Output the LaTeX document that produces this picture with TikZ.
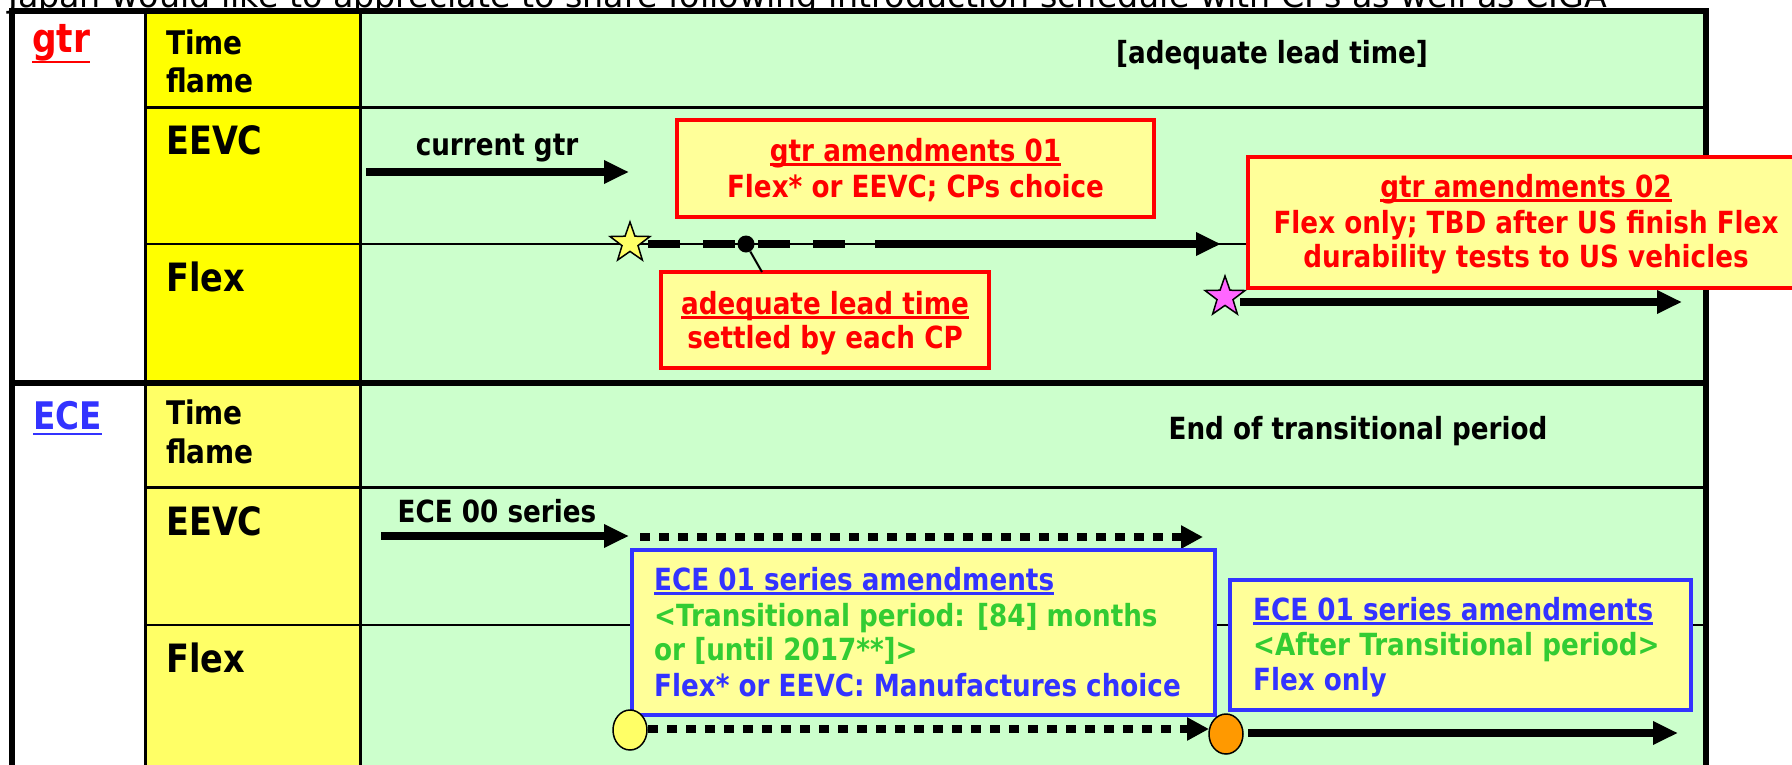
\documentclass[tikz,border=0pt]{standalone}
\usepackage{fontspec}
\usetikzlibrary{arrows.meta,shapes.geometric}
\newfontfamily\tf[FakeStretch=0.86]{DejaVu Sans}
\newfontfamily\capf{DejaVu Sans}
\definecolor{gfill}{HTML}{CCFFCC}
\definecolor{ygtr}{HTML}{FFFF00}
\definecolor{yece}{HTML}{FFFF66}
\definecolor{bfill}{HTML}{FFFF99}
\definecolor{myred}{HTML}{FF0000}
\definecolor{myblue}{HTML}{3333FF}
\definecolor{mygreen}{HTML}{33CC33}
\definecolor{mypink}{HTML}{FF66FF}
\definecolor{myorange}{HTML}{FF9900}
\newlength\ulwd
\newcommand\myul[2][4.5pt]{\settowidth\ulwd{#2}\rlap{\rule[-#1]{\ulwd}{2.5pt}}#2}
\tikzset{
  txt/.style={inner sep=0pt, font=\tf\bfseries\fontsize{30.5}{36}\selectfont},
  coltxt/.style={inner sep=0pt, anchor=base west, font=\tf\bfseries\fontsize{39}{44}\selectfont},
  tftxt/.style={inner sep=0pt, anchor=base west, font=\tf\bfseries\fontsize{32.5}{38}\selectfont},
  grid/.style={line width=3pt, black},
  thinrow/.style={line width=2.5pt, black},
  thk/.style={line width=8pt, -{Triangle[length=25pt,width=22pt]}},
  longdash/.style={line width=8pt, dash pattern=on 32pt off 23pt},
  sqdot/.style={line width=8pt, dash pattern=on 10pt off 9pt, -{Triangle[length=22pt,width=22pt]}},
  rbox/.style={rectangle, draw=myred, line width=4pt, fill=bfill, inner sep=0pt},
  bbox/.style={rectangle, draw=myblue, line width=4.5pt, fill=bfill, inner sep=0pt},
  starmark/.style={star, star points=5, star point ratio=2.5, minimum size=42pt, inner sep=0pt, draw=black, line width=1.5pt},
  ellmark/.style={ellipse, minimum width=34pt, minimum height=40pt, inner sep=0pt, draw=black, line width=1.5pt}
}
\begin{document}
\begin{tikzpicture}[x=1pt,y=-1pt]
\useasboundingbox (0,0) rectangle (1792,764);
\clip (0,0) rectangle (1792,764);
\fill[white] (0,0) rectangle (1792,764);
% caption (cut at the top)
\node[inner sep=0pt, anchor=base west, font=\capf\fontsize{33.3}{38}\selectfont] (cap) at (8,7.5)
  {Japan would like to appreciate to share following introduction schedule with CPs as well as CIGA};
% fills
\fill[white] (12,11) rectangle (145,770);
\fill[ygtr] (145,11) rectangle (360,383);
\fill[yece] (145,383) rectangle (360,770);
\fill[gfill] (360,11) rectangle (1706,770);
% row lines
\draw[grid] (145,107) -- (1706,107);
\draw[thinrow] (145,244) -- (1706,244);
\draw[grid] (145,487) -- (1706,487);
\draw[thinrow] (145,625) -- (1706,625);
% column lines
\draw[grid] (145,11) -- (145,770);
\draw[grid] (360,11) -- (360,770);
% gtr / ECE divider
\draw[line width=6pt] (12,383) -- (1706,383);
% outer frame
\draw[line width=6pt] (12,770) -- (12,11) -- (1706,11) -- (1706,770);

% left labels
\node[inner sep=0pt, anchor=base west, text=myred, font=\tf\bfseries\fontsize{40}{44}\selectfont] (lgtr) at (32,52) {\myul[11pt]{gtr}};
\node[inner sep=0pt, anchor=base west, text=myblue, font=\tf\bfseries\fontsize{38}{44}\selectfont] (lece) at (33,429) {\myul[6pt]{ECE}};

% column texts gtr
\node[tftxt] (t1a) at (166,54) {Time};
\node[tftxt] (t1b) at (166,92) {flame};
\node[coltxt] (e1) at (166,154) {EEVC};
\node[coltxt] (f1) at (166,291) {Flex};
% column texts ECE
\node[tftxt] (t2a) at (166,424) {Time};
\node[tftxt] (t2b) at (166,463) {flame};
\node[coltxt] (e2) at (166,535) {EEVC};
\node[coltxt] (f2) at (166,672) {Flex};

% time flame row texts
\node[txt, anchor=base] (alt1) at (1272,63) {[adequate lead time]};
\node[txt, anchor=base] (eot) at (1358,439) {End of transitional period};

% ===== gtr EEVC row
\node[txt, anchor=base] (cg) at (497,155) {current gtr};
\coordinate (cgA) at (366,172);
\coordinate (cgB) at (629,172);
\draw[thk] (cgA) -- (cgB);

\node[rbox, minimum width=477pt, minimum height=97pt] (g01) at (915.5,168.5) {};
\node[txt, anchor=base, text=myred] (g01a) at (915.5,161) {\myul{gtr amendments 01}};
\node[txt, anchor=base, text=myred] (g01b) at (915.5,197) {Flex* or EEVC; CPs choice};

% ===== gtr Flex row
\coordinate (dA) at (648,244);
\coordinate (dB) at (846,244);
\coordinate (sA) at (875,244);
\coordinate (sB) at (1221,244);
\draw[longdash] (dA) -- (dB);
\draw[thk] (sA) -- (sB);
\node[starmark, fill=yece] (ys) at (630,243) {};
\node[circle, fill=black, minimum size=17pt, inner sep=0pt] (dot) at (746,244) {};

\node[rbox, minimum width=328pt, minimum height=96pt] (alt) at (825,320) {};
\coordinate (altpin) at (762,272);
\draw[line width=2pt] (dot) -- (altpin);
\node[txt, anchor=base, text=myred] (alta) at (825,314) {\myul{adequate lead time}};
\node[txt, anchor=base, text=myred] (altb) at (825,348) {settled by each CP};

\node[starmark, fill=mypink] (ps) at (1225,297) {};
\coordinate (pA) at (1240,302);
\coordinate (pB) at (1682,302);
\draw[thk] (pA) -- (pB);

\node[rbox, minimum width=552pt, minimum height=131pt] (g02) at (1524,222.5) {};
\node[txt, anchor=base, text=myred] (g02a) at (1526,197) {\myul{gtr amendments 02}};
\node[txt, anchor=base, text=myred] (g02b) at (1526,233) {Flex only; TBD after US finish Flex};
\node[txt, anchor=base, text=myred] (g02c) at (1526,267) {durability tests to US vehicles};

% ===== ECE EEVC row
\node[txt, anchor=base] (e00) at (497,522) {ECE 00 series};
\coordinate (eA) at (381,536);
\coordinate (eB) at (629,536);
\draw[thk] (eA) -- (eB);
\coordinate (edA) at (640,537);
\coordinate (edB) at (1203,537);
\draw[sqdot] (edA) -- (edB);

\node[bbox, minimum width=583pt, minimum height=165pt] (ecl) at (923.5,632.5) {};
\node[txt, anchor=base west, text=myblue] (ecla) at (654,590) {\myul{ECE 01 series amendments}};
\node[txt, anchor=base west, text=mygreen] (eclb) at (654,626) {<Transitional period: [84] months};
\node[txt, anchor=base west, text=mygreen] (eclc) at (654,660) {or [until 2017**]>};
\node[txt, anchor=base west, text=myblue] (ecld) at (654,696) {Flex* or EEVC: Manufactures choice};

\node[bbox, minimum width=461pt, minimum height=130pt] (ecr) at (1460.5,645) {};
\node[txt, anchor=base west, text=myblue] (ecra) at (1253,620) {\myul{ECE 01 series amendments}};
\node[txt, anchor=base west, text=mygreen] (ecrb) at (1253,655) {<After Transitional period>};
\node[txt, anchor=base west, text=myblue] (ecrc) at (1253,690) {Flex only};

% ===== ECE Flex row
\node[ellmark, fill=yece] (ye) at (630,730) {};
\coordinate (fdA) at (648,729);
\coordinate (fdB) at (1209,729);
\draw[sqdot] (fdA) -- (fdB);
\node[ellmark, fill=myorange] (oe) at (1226,734) {};
\coordinate (fA) at (1248,733);
\coordinate (fB) at (1678,733);
\draw[thk] (fA) -- (fB);
\end{tikzpicture}
\end{document}
